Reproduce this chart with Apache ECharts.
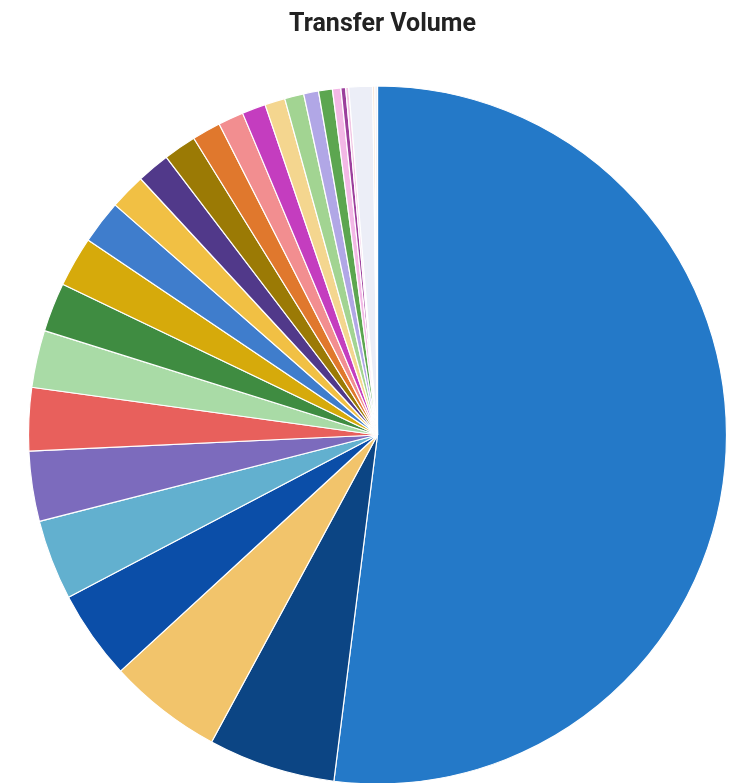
<!DOCTYPE html>
<html>
<head>
<meta charset="utf-8">
<script src="https://cdn.jsdelivr.net/npm/echarts@6/dist/echarts.min.js"></script>
<style>
  html, body { margin: 0; padding: 0; background: #fff; }
  #chart { width: 738px; height: 783px; }
</style>
</head>
<body>
<div id="chart"></div>
<script>
// slice names (no legend in the original, so generic)
const names = [
  'Source 1', 'Source 2', 'Source 3', 'Source 4', 'Source 5', 'Source 6',
  'Source 7', 'Source 8', 'Source 9', 'Source 10', 'Source 11', 'Source 12',
  'Source 13', 'Source 14', 'Source 15', 'Source 16', 'Source 17', 'Source 18',
  'Source 19', 'Source 20', 'Source 21', 'Source 22', 'Source 23', 'Source 24',
  'Source 25', 'Source 26', 'Source 27'
]
// share of transfer volume, %
const volumes = [
  52.1, 5.9, 5.3, 4.14, 3.72, 3.25,
  2.93, 2.65, 2.28, 2.33, 2.03, 1.67,
  1.53, 1.53, 1.33, 1.18, 1.1, 0.94,
  0.89, 0.69, 0.64, 0.39, 0.22, 0.14,
  1.1, 0.1, 0.12
]
const colors = [
  '#2479c8', '#0c4584', '#f2c46b', '#0b4ea8', '#62b0cf', '#7c6bbd',
  '#e8605c', '#a9dba6', '#3f8c41', '#d6aa0b', '#3f7dcc', '#f1c044',
  '#51398a', '#9b7a05', '#e0782d', '#f28e90', '#c43dbf', '#f4d68f',
  '#a2d492', '#b1a7e6', '#5ca650', '#f3b8e6', '#9c3f9c', '#f2c6e4',
  '#eceef7', '#f6dcc8', '#eef0f8'
]

const chart = echarts.init(document.getElementById('chart'))

chart.setOption({
  animation: false,
  title: {
    text: 'Transfer Volume',
    left: 377.5,
    textAlign: 'center',
    top: 7,
    textStyle: {
      fontFamily: 'Roboto',
      fontWeight: 'bold',
      fontSize: 25,
      color: '#222'
    }
  },
  series: [
    {
      type: 'pie',
      center: [377.5, 435],
      radius: 349,
      startAngle: 90,
      clockwise: true,
      label: { show: false },
      labelLine: { show: false },
      itemStyle: {
        borderColor: '#fff',
        borderWidth: 1.2
      },
      data: names.map((n, i) => ({
        name: n,
        value: volumes[i],
        itemStyle: { color: colors[i] }
      }))
    }
  ]
})
</script>
</body>
</html>
